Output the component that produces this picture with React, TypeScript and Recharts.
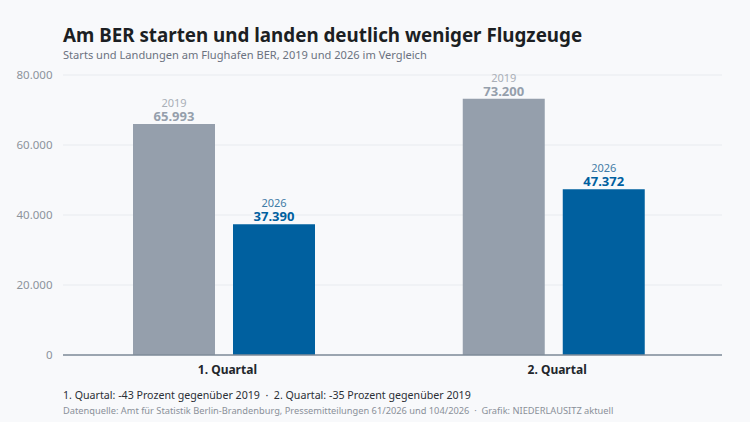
import React from "react";
import { BarChart, Bar, XAxis, YAxis, CartesianGrid, LabelList } from "recharts";

const quarters = ["1. Quartal", "2. Quartal"];
const values2019 = [65993, 73200];
const values2026 = [37390, 47372];
const yTicks = [0, 20000, 40000, 60000, 80000];
const rows = quarters.map((q, i) => ({ q, y2019: values2019[i], y2026: values2026[i] }));

const FONT = "'Noto Sans', sans-serif";
const de = (v: number) => (v === 0 ? "0" : String(v).replace(/\B(?=(\d{3})+$)/g, "."));
const txt = (top: number, size: number, color: string, weight: number, s: string) => (
  <div style={{ position: "absolute", left: 63, top, fontSize: size, color, fontWeight: weight, lineHeight: 1, whiteSpace: "pre", fontFamily: FONT }}>{s}</div>
);

export default function App() {
  return (
    <div style={{ position: "absolute", left: 0, top: 0, width: 750, height: 422, background: "#f8f9fb", overflow: "hidden" }}>
      {txt(26, 18.8, "#1c1f23", 700, "Am BER starten und landen deutlich weniger Flugzeuge")}
      {txt(49, 11.1, "#6b7280", 400, "Starts und Landungen am Flughafen BER, 2019 und 2026 im Vergleich")}
      {txt(390, 10.65, "#2b2f36", 400, "1. Quartal: -43 Prozent gegenüber 2019  ·  2. Quartal: -35 Prozent gegenüber 2019")}
      {txt(406, 9.28, "#8a9099", 400, "Datenquelle: Amt für Statistik Berlin-Brandenburg, Pressemitteilungen 61/2026 und 104/2026  ·  Grafik: NIEDERLAUSITZ aktuell")}
      <BarChart width={750} height={422} data={rows} barSize={82} barGap={18}
        margin={{ top: 75, right: 28, bottom: 37, left: 0 }} style={{ position: "absolute", left: 0, top: 0, fontFamily: FONT }}>
        <CartesianGrid vertical={false} stroke="#e8ebef" strokeWidth={1} />
        <XAxis dataKey="q" axisLine={{ stroke: "#7f8b99", strokeWidth: 1.5 }} tickLine={false} height={30}
          padding={{ left: -4, right: 3.5 }} dx={3.5} dy={2}
          tick={{ fontSize: 12, fontWeight: 700, fill: "#22262b" }} />
        <YAxis width={63} domain={[0, 80000]} ticks={yTicks} tickFormatter={de} axisLine={false} tickLine={false}
          tickMargin={4.5} tick={{ fontSize: 11.5, fill: "#8d939b" }} />
        <Bar dataKey="y2019" fill="#959fac" isAnimationActive={false}>
          <LabelList dataKey="y2019" position="top" offset={3} formatter={de} style={{ fontSize: 13, fontWeight: 700, fill: "#959fac" }} />
          <LabelList valueAccessor={() => "2019"} position="top" offset={17} style={{ fontSize: 11, fill: "#a9afb7" }} />
        </Bar>
        <Bar dataKey="y2026" fill="#00609f" isAnimationActive={false}>
          <LabelList dataKey="y2026" position="top" offset={3} formatter={de} style={{ fontSize: 13, fontWeight: 700, fill: "#00609f" }} />
          <LabelList valueAccessor={() => "2026"} position="top" offset={17} style={{ fontSize: 11, fill: "#3f7ba6" }} />
        </Bar>
      </BarChart>
    </div>
  );
}
